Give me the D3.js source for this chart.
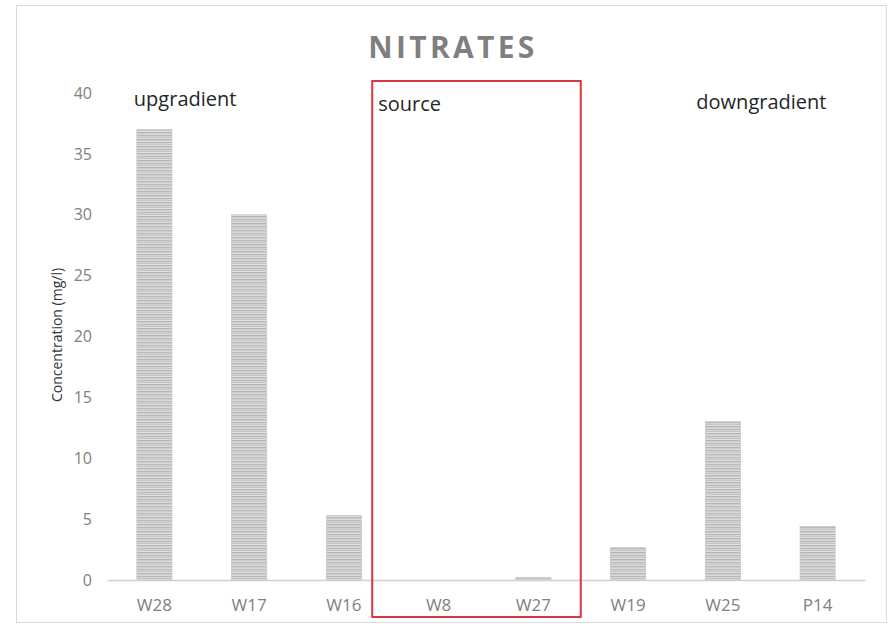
<!DOCTYPE html>
<html>
<head>
<meta charset="utf-8">
<script src="https://cdn.jsdelivr.net/npm/d3@7"></script>
<style>
  body { margin: 0; background: #fff; }
  svg { display: block; font-family: "Open Sans", "Liberation Sans", sans-serif; }
</style>
</head>
<body>
<div id="chart-container"></div>
<script>
// Data
const wells = ["W28", "W17", "W16", "W8", "W27", "W19", "W25", "P14"];
const nitrate = [37, 30, 5.3, 0, 0.2, 2.65, 13, 4.4];
const yTicks = [0, 5, 10, 15, 20, 25, 30, 35, 40];
const zoneLabels = ["upgradient", "source", "downgradient"];
const zoneAnchor = ["W28", "W8", "W25"];

function init() {
  const W = 889, H = 627;
  const margin = { top: 93, right: 24, bottom: 47, left: 107 };
  const width = W - margin.left - margin.right;
  const height = H - margin.top - margin.bottom;

  const svg = d3.select("#chart-container")
    .append("svg")
      .attr("width", W)
      .attr("height", H);

  // striped fill for the bars
  const defs = svg.append("defs");
  const pat = defs.append("pattern")
    .attr("id", "stripes")
    .attr("patternUnits", "userSpaceOnUse")
    .attr("width", 8)
    .attr("height", 7);
  const stripeCols = ["#b9b9b9", "#d4d4d4", "#c4c4c4", "#e0e0e0", "#b5b5b5", "#cecece", "#dadada"];
  stripeCols.forEach((c, i) => {
    pat.append("rect").attr("x", 0).attr("y", i).attr("width", 8).attr("height", 1).attr("fill", c);
  });

  // outer frame
  svg.append("rect")
    .attr("x", 16.5).attr("y", 5.5)
    .attr("width", 870).attr("height", 617)
    .attr("fill", "#fff")
    .attr("stroke", "#d9d9d9");

  const g = svg.append("g")
    .attr("transform", `translate(${margin.left},${margin.top})`);

  const x = d3.scaleBand()
    .domain(wells)
    .range([0, width])
    .paddingInner(0.63)
    .paddingOuter(0.315);

  const y = d3.scaleLinear()
    .domain([0, 40])
    .range([height, 0]);

  // title
  svg.append("text")
    .attr("x", 453)
    .attr("y", 58)
    .attr("text-anchor", "middle")
    .attr("font-size", "30px")
    .attr("font-weight", "bold")
    .attr("fill", "#7f7f7f")
    .attr("letter-spacing", "3.3px")
    .text("NITRATES");

  // y axis (labels only)
  const yAxis = g.append("g")
    .attr("class", "y-axis")
    .call(d3.axisLeft(y).tickValues(yTicks).tickSize(0).tickPadding(15));
  yAxis.select(".domain").remove();
  yAxis.selectAll("text")
    .attr("font-family", "'Open Sans', sans-serif")
    .attr("font-size", "16px")
    .attr("fill", "#808080");

  // bars
  g.selectAll(".bar")
    .data(nitrate)
    .enter()
    .append("rect")
      .attr("class", "bar")
      .attr("x", (d, i) => x(wells[i]))
      .attr("y", d => y(d))
      .attr("width", x.bandwidth())
      .attr("height", d => height - y(d))
      .attr("fill", "url(#stripes)")
      .attr("stroke", "#c8c8c8")
      .attr("stroke-width", 0.8);

  // x axis
  const xAxis = g.append("g")
    .attr("class", "x-axis")
    .attr("transform", `translate(0,${height})`)
    .call(d3.axisBottom(x).tickSize(0).tickPadding(19).tickSizeOuter(0));
  xAxis.select(".domain")
    .attr("stroke", "#d0d0d0")
    .attr("stroke-width", 1.5);
  xAxis.selectAll("text")
    .attr("font-family", "'Open Sans', sans-serif")
    .attr("font-size", "17px")
    .attr("fill", "#808080");

  // y axis title
  svg.append("text")
    .attr("transform", `translate(62,${335}) rotate(-90)`)
    .attr("text-anchor", "middle")
    .attr("font-size", "14px")
    .attr("fill", "#333")
    .text("Concentration (mg/l)");

  // red box around the source wells
  const step = x.step();
  const boxLeft = x("W8") - (step - x.bandwidth()) / 2 - 19;
  const boxRight = x("W27") + x.bandwidth() + (step - x.bandwidth()) / 2;
  g.append("rect")
    .attr("x", boxLeft)
    .attr("y", -12)
    .attr("width", boxRight - boxLeft)
    .attr("height", height + 49)
    .attr("fill", "none")
    .attr("stroke", "#d9363e")
    .attr("stroke-width", 2);

  // zone labels
  g.selectAll(".zone")
    .data(zoneLabels)
    .enter()
    .append("text")
      .attr("class", "zone")
      .attr("x", (d, i) => i === 1 ? boxLeft + 6 : x(zoneAnchor[i]) + (i === 0 ? -3 : -9))
      .attr("y", (d, i) => [13, 18, 16][i])
      .attr("font-size", "20px")
      .attr("fill", "#262626")
      .text(d => d);
}

window.onload = init;
</script>
</body>
</html>
